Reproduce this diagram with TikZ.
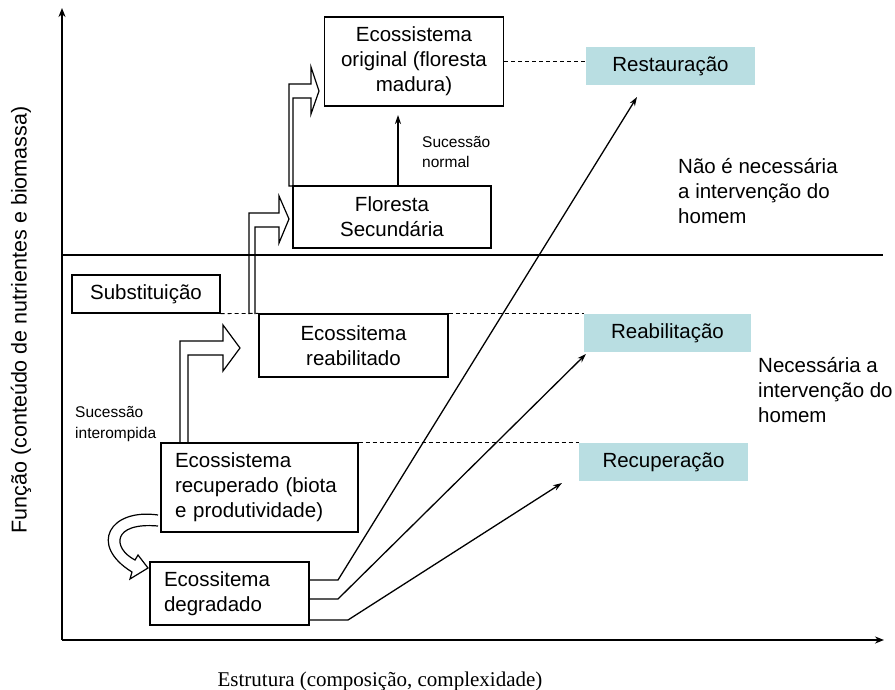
\documentclass[tikz,border=0pt]{standalone}
\usepackage{fontspec}
\setmainfont{Liberation Sans}
\newfontfamily\timesfont{Liberation Serif}
\usetikzlibrary{arrows.meta}
\definecolor{paleblue}{RGB}{185,222,226}
\begin{document}
\begin{tikzpicture}[x=1pt,y=-1pt,
  every node/.style={font=\fontsize{20.5}{25}\selectfont, inner sep=0pt},
  box/.style={draw, line width=1.2pt, fill=white, align=center},
  lbox/.style={draw, line width=1.2pt, fill=white, align=left, inner xsep=14pt, inner ysep=0pt},
  tag/.style={fill=paleblue, align=center, minimum height=38pt},
  small/.style={font=\fontsize{15.5}{20.5}\selectfont, align=left, anchor=west},
  note/.style={align=left, anchor=west},
  conn/.style={line width=1.3pt, -{Stealth[length=9pt,width=6pt]}},
  axis/.style={line width=2pt},
  dashline/.style={line width=0.9pt, dash pattern=on 4pt off 3pt},
  blockarrow/.style={line width=1.2pt, fill=white, line join=miter}
]
\useasboundingbox (0,0) rectangle (895,690);

% axes
\coordinate (O) at (62,640);
\coordinate (ytop) at (62,8);
\coordinate (xend) at (884,640);
\draw[axis, -{Stealth[length=9pt,width=7pt]}] (O) -- (ytop);
\draw[axis, -{Stealth[length=9pt,width=7pt]}] (O) -- (xend);

% block arrows (drawn first, boxes on top)
\draw[blockarrow] (180,443) -- (180,341) -- (223,341) -- (223,325) -- (240,348)
  -- (223,371) -- (223,355) -- (188,355) -- (188,443);
\draw[blockarrow] (249,314) -- (249,213) -- (279,213) -- (279,196) -- (289,219)
  -- (279,243) -- (279,227) -- (255,227) -- (255,314);
\draw[blockarrow] (293,186) -- (289,186) -- (289,84) -- (311,84) -- (311,67) -- (319,91)
  -- (311,114) -- (311,98) -- (293,98) -- (293,248);
\draw[blockarrow] (158,515) .. controls (110,508) and (88,545) .. (132,572)
  -- (130,579) -- (148,568) -- (138,555) -- (135,560)
  .. controls (112,548) and (112,522) .. (158,526);

% separator
\draw[line width=1.3pt] (62,255) -- (883,255);

% boxes
\node[box, minimum width=179pt, minimum height=89pt] (orig) at (414,61.5) {Ecossistema\\original (floresta\\madura)};
\node[box, minimum width=198pt, minimum height=62pt] (sec) at (392,217) {Floresta\\Secundária};
\node[box, minimum width=189pt, minimum height=63pt] (reab) at (353.5,345.5) {Ecossitema\\reabilitado};
\node[lbox, text width=169pt, minimum height=89pt] (recup) at (259.5,487.5) {Ecossistema\\recuperado (biota\\e produtividade)};
\node[lbox, text width=131pt, minimum height=63pt] (deg) at (229.5,593.5) {Ecossitema\\degradado};
\node[box, minimum width=148pt, minimum height=38pt] (sub) at (146,294) {Substituição};

% coloured tags
\node[tag, minimum width=169pt] (rest) at (670.5,66) {Restauração};
\node[tag, minimum width=167pt] (reabil) at (667.5,333) {Reabilitação};
\node[tag, minimum width=169pt] (rectag) at (663.5,462) {Recuperação};

% dashed guide lines
\draw[dashline] (orig.east) -- (orig.east -| rest.west);
\draw[dashline] (sub.south east) -- (reab.north west);
\draw[dashline] (reab.north east) -- (reab.north east -| reabil.west);
\draw[dashline] (recup.north east) -- (recup.north east -| rectag.west);

% normal succession
\draw[conn] (sec.north -| 398,0) -- (398,115);

% arrows from degraded ecosystem
\coordinate (tRest) at (637,97);
\coordinate (tReab) at (586,354);
\coordinate (tRec) at (562,483);
\draw[conn] (deg.east |- 0,580) -- (338,580) -- (tRest);
\draw[conn] (deg.east |- 0,599) -- (338,599) -- (tReab);
\draw[conn] (deg.east |- 0,620) -- (348,620) -- (tRec);

% texts
\node[small] (sn) at (422,152) {Sucessão\\normal};
\node[small] (si) at (75,424) {Sucessão\\interompida};
\node[note] (nao) at (678,191) {Não é necessária\\a intervenção do\\homem};
\node[note] (nec) at (758,390) {Necessária a\\intervenção do\\homem};

% axis labels
\node[rotate=90, font=\fontsize{21.5}{25}\selectfont] (ylab) at (21,320) {Função (conteúdo de nutrientes e biomassa)};
\node[font=\timesfont\fontsize{21}{25}\selectfont] (xlab) at (380,681) {Estrutura (composição, complexidade)};
\end{tikzpicture}
\end{document}
